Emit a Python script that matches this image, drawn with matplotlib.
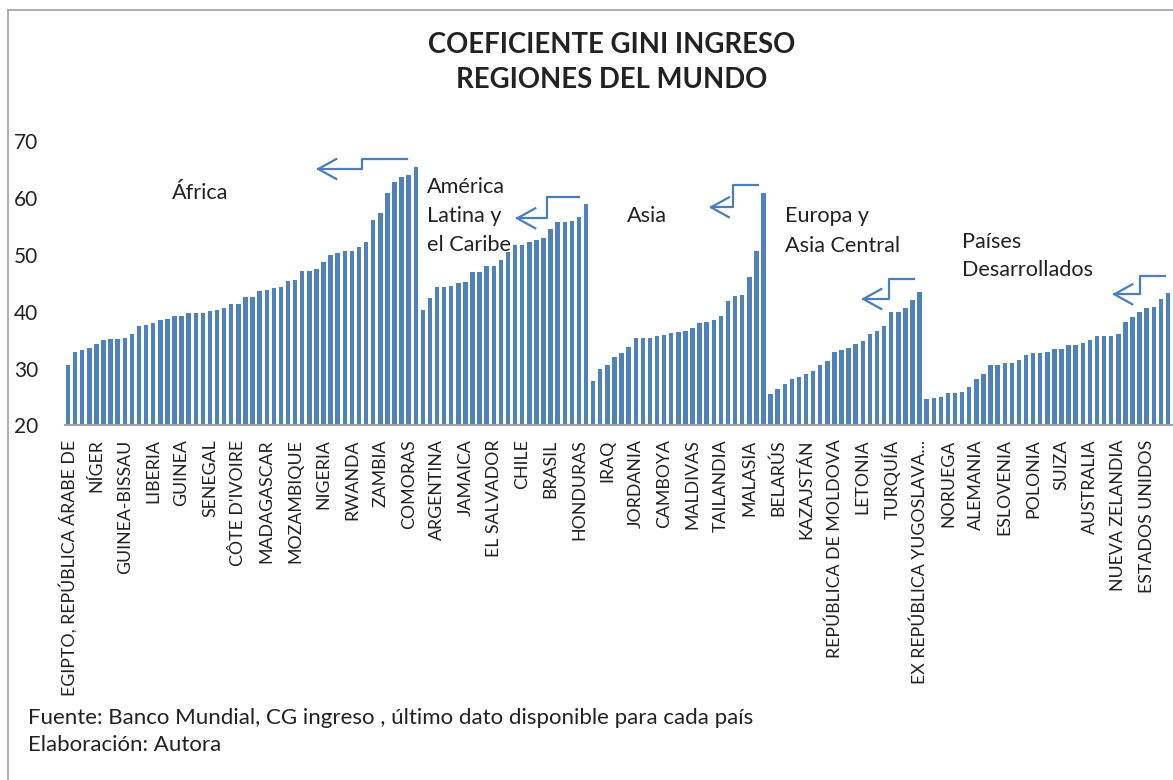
import matplotlib.pyplot as plt
from matplotlib.lines import Line2D
import numpy as np

# Gini por país, ordenado dentro de cada región
africa = [30.7, 33.0, 33.2, 33.6, 34.4, 35.1, 35.2, 35.2, 35.4, 36.0,
          37.5, 37.6, 38.1, 38.5, 38.8, 39.2, 39.2, 39.7, 39.7, 39.8,
          40.2, 40.3, 40.7, 41.3, 41.3, 42.5, 42.5, 43.7, 43.9, 44.1,
          44.3, 45.4, 45.5, 47.1, 47.1, 47.5, 48.7, 49.9, 50.3, 50.6,
          50.6, 51.3, 52.3, 56.1, 57.3, 60.8, 62.8, 63.6, 64.1, 65.5]
america_latina = [40.3, 42.4, 44.4, 44.4, 44.6, 45.1, 45.3, 47.0, 47.0, 48.0,
                  48.1, 49.1, 50.5, 51.8, 51.8, 52.2, 52.6, 52.9, 54.5, 55.7,
                  55.7, 56.0, 56.7, 59.0]
asia = [27.8, 29.9, 30.7, 32.0, 32.7, 33.8, 35.3, 35.4, 35.4, 35.7,
        35.9, 36.3, 36.4, 36.6, 37.2, 38.1, 38.2, 38.6, 39.2, 41.9,
        42.7, 42.9, 46.1, 50.6, 60.9]
europa_asia_central = [25.6, 26.4, 27.3, 28.1, 28.5, 29.0, 29.6, 30.7, 31.3, 33.0,
                       33.3, 33.6, 34.4, 34.8, 36.1, 36.6, 37.5, 39.9, 40.0, 40.6,
                       42.0, 43.4]
desarrollados = [24.7, 24.8, 25.0, 25.7, 25.7, 25.9, 26.8, 28.2, 29.0, 30.7,
                 30.7, 31.0, 31.0, 31.5, 32.4, 32.7, 32.7, 32.9, 33.5, 33.5,
                 34.1, 34.1, 34.5, 35.0, 35.8, 35.8, 35.8, 36.0, 38.2, 39.0,
                 40.0, 40.6, 40.9, 42.3, 43.3]

# Excel solo muestra una etiqueta cada 4 barras
tick_labels = ["EGIPTO, REPÚBLICA ÁRABE DE", "NÍGER", "GUINEA-BISSAU", "LIBERIA",
               "GUINEA", "SENEGAL", "CÔTE D'IVOIRE", "MADAGASCAR", "MOZAMBIQUE",
               "NIGERIA", "RWANDA", "ZAMBIA", "COMORAS", "ARGENTINA", "JAMAICA",
               "EL SALVADOR", "CHILE", "BRASIL", "HONDURAS", "IRAQ", "JORDANIA",
               "CAMBOYA", "MALDIVAS", "TAILANDIA", "MALASIA", "BELARÚS", "KAZAJSTÁN",
               "REPÚBLICA DE MOLDOVA", "LETONIA", "TURQUÍA", "EX REPÚBLICA YUGOSLAVA...",
               "NORUEGA", "ALEMANIA", "ESLOVENIA", "POLONIA", "SUIZA", "AUSTRALIA",
               "NUEVA ZELANDIA", "ESTADOS UNIDOS"]
label_step = 4

gini = africa + america_latina + asia + europa_asia_central + desarrollados
n = len(gini)

W, H = 1173, 780
blue = '#4F81BD'
txt = '#222222'
font = 'Lato'

def fx(x):
    return x / W

def fy(y):
    return 1 - y / H

fig = plt.figure(figsize=(W / 100, H / 100), dpi=100)
ax = fig.add_axes([fx(64.5), fy(425.5), 1107 / W, 284.5 / H])

ax.bar(np.arange(n), gini, width=0.63, bottom=0, color=blue)
ax.set_xlim(-0.5, n - 0.5)
ax.set_ylim(20, 70)
ax.set_yticks(range(20, 71, 10))
ax.set_xticks(np.arange(0, n, label_step))
ax.set_xticklabels(tick_labels, rotation=90, fontsize=12.8, family=font, color=txt)
ax.tick_params(axis='x', length=0, pad=10)
ax.tick_params(axis='y', length=0, pad=19, labelsize=15, labelcolor=txt)
for lab in ax.get_yticklabels():
    lab.set_family(font)
for s in ['top', 'right', 'left']:
    ax.spines[s].set_visible(False)
ax.spines['bottom'].set_color('#a0a0a0')
ax.spines['bottom'].set_linewidth(1.5)

# marco del gráfico
fig.add_artist(Line2D([fx(8), fx(8)], [fy(10), 0], color='#a0a0a0', lw=1.2))
fig.add_artist(Line2D([fx(8), 1], [fy(10), fy(10)], color='#a0a0a0', lw=1.2))

fig.text(fx(612), fy(45), 'COEFICIENTE GINI INGRESO', ha='center', va='center',
         fontsize=19.8, fontweight='bold', family=font, color=txt)
fig.text(fx(612), fy(80), 'REGIONES DEL MUNDO', ha='center', va='center',
         fontsize=19.8, fontweight='bold', family=font, color=txt)

# nombres de regiones (una línea por texto)
region_text = [
    (172, 193, 'África'),
    (427, 187, 'América'), (427, 216, 'Latina y'), (427, 245, 'el Caribe'),
    (627, 216, 'Asia'),
    (785, 216, 'Europa y'), (785, 246, 'Asia Central'),
    (962, 242, 'Países'), (962, 270, 'Desarrollados'),
]
for x, y, s in region_text:
    fig.text(fx(x), fy(y), s, ha='left', va='center', fontsize=15.6, family=font, color=txt)

# flechas dibujadas a mano
arrows = [
    (406.7, 159.3, 361.7, 169.0, 318.3),
    (579.3, 196.7, 546.7, 218.3, 517.3),
    (757.7, 185.0, 733.3, 207.3, 711.0),
    (914.3, 279.0, 889.3, 299.0, 863.3),
    (1165.0, 276.0, 1140.0, 294.3, 1114.3),
]
for x0, y0, xm, y1, xt in arrows:
    xs = [x0, xm, xm, xt]
    ys = [y0, y0, y1, y1]
    fig.add_artist(Line2D([fx(v) for v in xs], [fy(v) for v in ys], color='#4A7EBB', lw=1.6))
    fig.add_artist(Line2D([fx(xt + 18), fx(xt), fx(xt + 18)], [fy(y1 - 10), fy(y1), fy(y1 + 10)],
                          color='#4A7EBB', lw=1.6))

fig.text(fx(28), fy(718), 'Fuente: Banco Mundial, CG ingreso , último dato disponible para cada país',
         ha='left', va='center', fontsize=16, family=font, color=txt)
fig.text(fx(28), fy(745), 'Elaboración: Autora', ha='left', va='center', fontsize=16,
         family=font, color=txt)

fig.savefig('out.png', dpi=100)
